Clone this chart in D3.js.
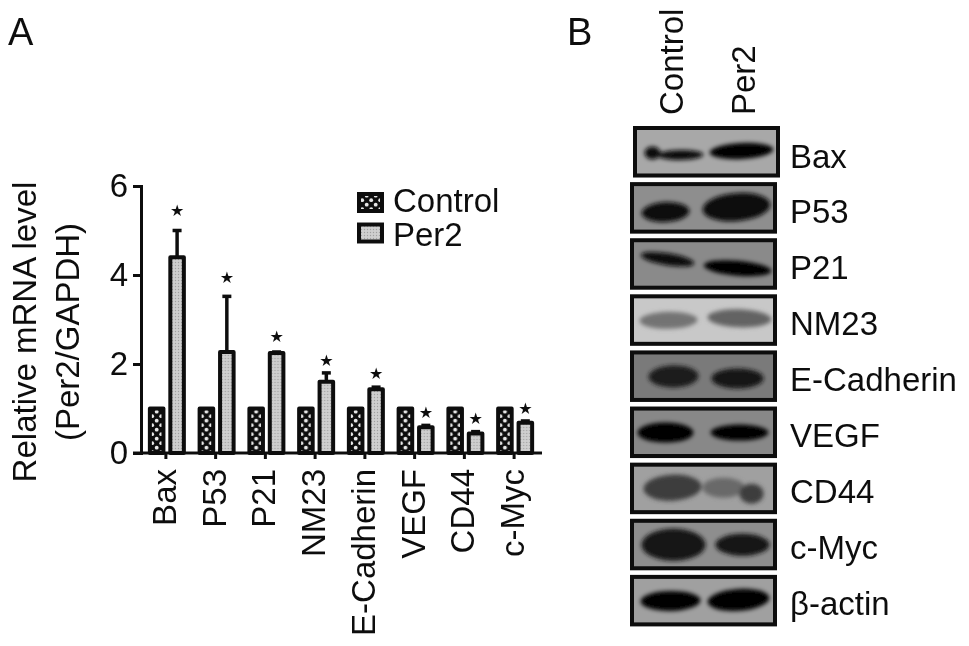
<!DOCTYPE html>
<html><head><meta charset="utf-8">
<script src="https://cdn.jsdelivr.net/npm/d3@7"></script>
<style>html,body{margin:0;padding:0;background:#fff}svg{display:block}text{font-family:"Liberation Sans",Arial,sans-serif;fill:#111}</style>
</head><body><svg id="c" width="969" height="646"></svg>
<script>
const genes=["Bax","P53","P21","NM23","E-Cadherin","VEGF","CD44","c-Myc"];
const series=["Control","Per2"];
const controlValues=[1,1,1,1,1,1,1,1];
const per2Values=[4.4,2.27,2.25,1.6,1.43,0.58,0.44,0.68];
const per2ErrorTop=[5,3.52,2.27,1.8,1.48,0.62,0.48,0.72];
const starLevels=[5.45,3.95,2.62,2.07,1.8,0.92,0.78,1.0];
const yTicks=[0,2,4,6];
const blotLabels=["Bax","P53","P21","NM23","E-Cadherin","VEGF","CD44","c-Myc","β-actin"];
const blotGreys=[168,142,138,200,122,136,160,142,160];

const svg=d3.select("#c");
const defs=svg.append("defs");
const soft=defs.append("filter").attr("id","soft").attr("x","-5%").attr("y","-5%").attr("width","110%").attr("height","110%");
soft.append("feGaussianBlur").attr("stdDeviation",0.6);
const bandBlur=defs.append("filter").attr("id","bandBlur").attr("x","-30%").attr("y","-60%").attr("width","160%").attr("height","220%");
bandBlur.append("feGaussianBlur").attr("stdDeviation",1.9);
const p1=defs.append("pattern").attr("id","pc").attr("patternUnits","userSpaceOnUse").attr("width",9).attr("height",9);
p1.append("rect").attr("width",9).attr("height",9).attr("fill","#111");
p1.append("circle").attr("cx",2.2).attr("cy",2.2).attr("r",1.9).attr("fill","#e8e8e8");
p1.append("circle").attr("cx",6.7).attr("cy",6.7).attr("r",1.9).attr("fill","#e8e8e8");
const p2=defs.append("pattern").attr("id","pp").attr("patternUnits","userSpaceOnUse").attr("width",3).attr("height",3);
p2.append("rect").attr("width",3).attr("height",3).attr("fill","#cfcfcf");
p2.append("circle").attr("cx",1.5).attr("cy",1.5).attr("r",0.7).attr("fill","#a0a0a0");

const root=svg.append("g").attr("filter","url(#soft)");

// Panel letters
root.append("text").attr("x",8).attr("y",45).attr("font-size",38).text("A");
root.append("text").attr("x",567).attr("y",45).attr("font-size",38).text("B");

// Panel A
const y=d3.scaleLinear().domain([0,6]).range([453,186]);
const x=d3.scaleBand().domain(genes).range([141,539]).paddingInner(0).paddingOuter(0);
const inner=d3.scaleBand().domain(series).range([7,45]).paddingInner(0.14);
const A=root.append("g");
const bar=(g,val,s,fill)=>g.append("rect")
  .attr("x",x.bandwidth()/2-25+inner(s)+2).attr("width",inner.bandwidth()-4)
  .attr("y",y(val)).attr("height",y(0)-y(val))
  .attr("fill",fill).attr("stroke","#111").attr("stroke-width",4).attr("stroke-linejoin","round");
genes.forEach((gene,i)=>{
  const g=A.append("g").attr("transform",`translate(${x(gene)},0)`);
  const cx=x.bandwidth()/2-25+inner("Per2")+inner.bandwidth()/2;
  g.append("line").attr("x1",cx).attr("x2",cx).attr("y1",y(per2Values[i])).attr("y2",y(per2ErrorTop[i])).attr("stroke","#111").attr("stroke-width",3.5);
  g.append("line").attr("x1",cx-4.5).attr("x2",cx+4.5).attr("y1",y(per2ErrorTop[i])).attr("y2",y(per2ErrorTop[i])).attr("stroke","#111").attr("stroke-width",3.5);
  bar(g,controlValues[i],"Control","url(#pc)");
  bar(g,per2Values[i],"Per2","url(#pp)");
  g.append("text").attr("x",cx).attr("y",y(starLevels[i])).attr("dy","0.35em").attr("text-anchor","middle").attr("font-size",16).style("font-family","'DejaVu Sans'").text("★");
});
const yAxis=A.append("g").attr("transform","translate(141,0)").call(d3.axisLeft(y).tickValues(yTicks).tickFormat(d3.format("d")).tickSize(8).tickPadding(5));
yAxis.selectAll("path,line").attr("stroke","#111").attr("stroke-width",3);
yAxis.selectAll("text").attr("font-size",33).style("font-family","'Liberation Sans'");
const xAxis=A.append("g").attr("transform","translate(0,453)").call(d3.axisBottom(x).tickSize(6).tickSizeOuter(0));
xAxis.select("path").attr("stroke","#111").attr("stroke-width",3).attr("d","M133,0H542");
xAxis.selectAll("line").attr("stroke","#111").attr("stroke-width",3);
xAxis.selectAll("text").attr("font-size",33).attr("text-anchor","end").attr("transform","rotate(-90)").attr("x",-16).attr("y",-2).attr("dy","0.36em").style("font-family","'Liberation Sans'");
root.append("text").attr("transform","translate(36,332) rotate(-90)").attr("text-anchor","middle").attr("font-size",33).text("Relative mRNA level");
root.append("text").attr("transform","translate(79,332) rotate(-90)").attr("text-anchor","middle").attr("font-size",33).text("(Per2/GAPDH)");

// Legend
series.forEach(s=>{
  const yy=s==="Control"?202.5:233;
  root.append("rect").attr("x",359).attr("y",yy-8.5).attr("width",23).attr("height",17)
    .attr("fill",s==="Control"?"url(#pc)":"url(#pp)").attr("stroke","#111").attr("stroke-width",4);
  root.append("text").attr("x",393).attr("y",yy+(s==="Control"?9.5:13)).attr("font-size",33).text(s);
});

// Panel B
const lanes=d3.scaleBand().domain(series).range([636,774]);
const rows=d3.scaleBand().domain(blotLabels).range([126,631]);
const bandShapes={
 "Bax":[[0,-18,27,8,6.5,0,10],[0,10,29,23,5,-1,15],[1,2,25,32,8,-3,5]],
 "P53":[[0,-5,30,24,10,-3,15],[1,-3,25,34,14,-5,15]],
 "P21":[[0,-3,21,27,6,9,15],[1,-2,30,34,7.5,5,5]],
 "NM23":[[0,-2,26,29,8.5,-1,115],[1,0,24,32,9,2,100]],
 "E-Cadherin":[[0,3,26,25,11,-1,30],[1,-2,28,26,10,0,20]],
 "VEGF":[[0,-5,26,28,10,0,0],[1,0,26,29,8,0,5]],
 "CD44":[[0,2,25,29,13,-3,60],[1,-16,25,21,10,0,105],[1,12,31,12,10,0,60]],
 "c-Myc":[[0,3,26,32,16,0,20],[1,3,26,27,11,0,20]],
 "β-actin":[[0,0,26,30,10,-1,5],[1,-1,25,31,11,-4,5]]
};
const B=root.append("g");
blotLabels.forEach((name,i)=>{
  const top=rows(name);
  const clipId="clip"+i;
  const left=i===0?635:632;
  defs.append("clipPath").attr("id",clipId).append("rect").attr("x",left).attr("y",top+2).attr("width",143).attr("height",47);
  const grey=blotGreys[i];
  B.append("rect").attr("x",left).attr("y",top+2).attr("width",143).attr("height",47.5)
    .attr("fill",d3.rgb(grey,grey,grey)).attr("stroke","#0a0a0a").attr("stroke-width",4);
  const bg=B.append("g").attr("clip-path",`url(#${clipId})`);
  const inner2=bg.append("g").attr("filter","url(#bandBlur)");
  bandShapes[name].forEach(b=>{
    const cx=lanes(series[b[0]])+lanes.bandwidth()/2+b[1], cy=top+b[2];
    inner2.append("ellipse").attr("cx",0).attr("cy",0).attr("rx",b[3]).attr("ry",b[4])
      .attr("transform",`translate(${cx},${cy}) rotate(${b[5]})`)
      .attr("fill",d3.rgb(b[6],b[6],b[6]));
  });
  B.append("text").attr("x",790).attr("y",top+29+(i===0?1:0)).attr("dy","0.35em").attr("font-size",33).text(name);
});
series.forEach((s,i)=>{
  root.append("text").attr("transform",`translate(${lanes(s)+lanes.bandwidth()/2+(i===0?12.5:15.5)},115) rotate(-90)`).attr("font-size",33).text(s);
});
</script></body></html>
